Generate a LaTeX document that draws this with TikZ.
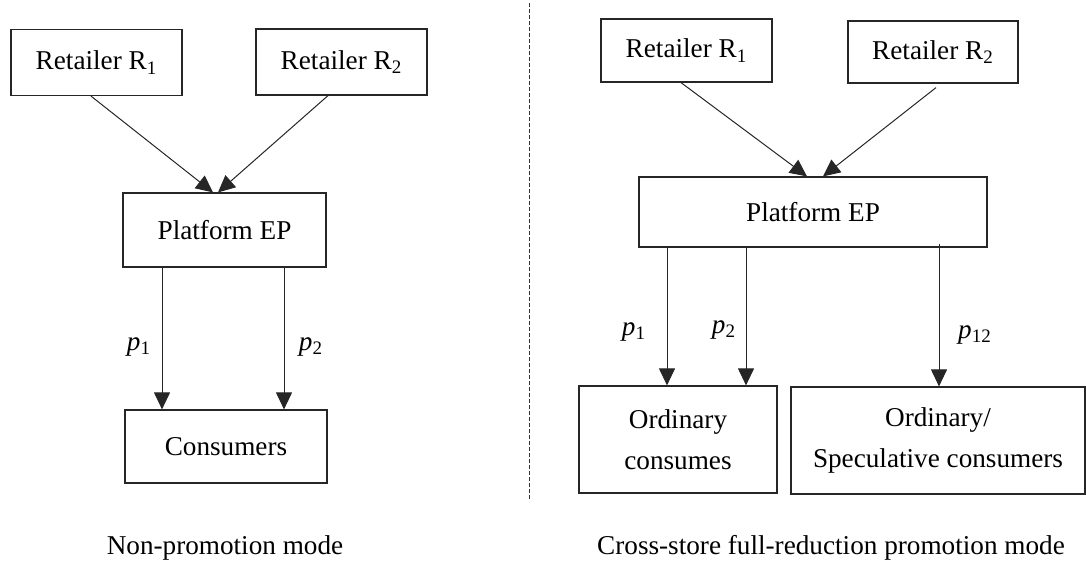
\documentclass[tikz,border=0pt]{standalone}
\usepackage{fontspec}
\setmainfont{Liberation Serif}
\usetikzlibrary{arrows.meta}
\begin{document}
\begin{tikzpicture}[x=0.5pt,y=-0.5pt,
  box/.style={draw=black!85, line width=0.6pt, inner sep=0pt, align=center,
    font=\fontsize{13.6}{20.5}\selectfont},
  arr/.style={draw=black!85, line width=0.5pt, -{Triangle[width=8pt,length=8.5pt]}},
  lab/.style={font=\fontsize{13.6}{16}\selectfont, inner sep=0pt},
  captxt/.style={font=\fontsize{13.6}{16}\selectfont, inner sep=0pt}]
\useasboundingbox (0,0) rectangle (1086,570);
% ---------- left: non-promotion ----------
\node[box, minimum width=85.5pt, minimum height=33pt] (R1L) at (96.5,62.5) {Retailer R\textsubscript{1}};
\node[box, minimum width=85.5pt, minimum height=33pt] (R2L) at (341.5,62) {Retailer R\textsubscript{2}};
\node[box, minimum width=101.5pt, minimum height=37pt] (PL) at (224.5,230) {Platform EP};
\node[box, minimum width=101pt, minimum height=36.5pt] (CL) at (226,446.5) {Consumers};
\draw[arr] ([xshift=-2.75pt]R1L.south) -- ([xshift=-5.75pt]PL.north);
\draw[arr] ([xshift=-6.75pt]R2L.south) -- ([xshift=-3.25pt]PL.north);
\draw[arr] ([xshift=-31.25pt]PL.south) coordinate (l1) -- (l1 |- CL.north);
\draw[arr] ([xshift=29.75pt]PL.south) coordinate (l2) -- (l2 |- CL.north);
\node[lab] (pl1) at (139,347) {\textit{p}\textsubscript{1}};
\node[lab] (pl2) at (311,347) {\textit{p}\textsubscript{2}};
\node[captxt] (capL) at (225,548) {Non-promotion mode};
% ---------- divider ----------
\coordinate (dtop) at (529,3);
\coordinate (dbot) at (529,500);
\draw[black!80, line width=0.4pt, dash pattern=on 2pt off 1pt] (dtop) -- (dbot);
% ---------- right: cross-store ----------
\node[box, minimum width=85.5pt, minimum height=31.5pt] (R1R) at (686.5,50.5) {Retailer R\textsubscript{1}};
\node[box, minimum width=85pt, minimum height=31pt] (R2R) at (933,52) {Retailer R\textsubscript{2}};
\node[box, minimum width=174pt, minimum height=35pt] (PR) at (813,212) {Platform EP};
\node[box, minimum width=99pt, minimum height=53.5pt] (OC) at (678,439.5) {Ordinary\\consumes};
\node[box, minimum width=147pt, minimum height=53.5pt] (OS) at (938,440.5) {Ordinary/\\Speculative consumers};
\draw[arr] ([xshift=-2.75pt]R1R.south) -- ([xshift=-3pt]PR.north);
\draw[arr] ([xshift=1.5pt,yshift=-2pt]R2R.south) -- ([xshift=5pt]PR.north);
\draw[arr] ([xshift=-73pt]PR.south) coordinate (r1) -- (r1 |- OC.north);
\draw[arr] ([xshift=-33.5pt]PR.south) coordinate (r2) -- (r2 |- OC.north);
\draw[arr] ([xshift=63pt,yshift=2pt]PR.south) coordinate (r3) -- (r3 |- OS.north);
\node[lab] (pr1) at (634,332) {\textit{p}\textsubscript{1}};
\node[lab] (pr2) at (724,330) {\textit{p}\textsubscript{2}};
\node[lab] (pr12) at (975,335) {\textit{p}\textsubscript{12}};
\node[captxt] (capR) at (831,548) {Cross-store full-reduction promotion mode};
\end{tikzpicture}
\end{document}
